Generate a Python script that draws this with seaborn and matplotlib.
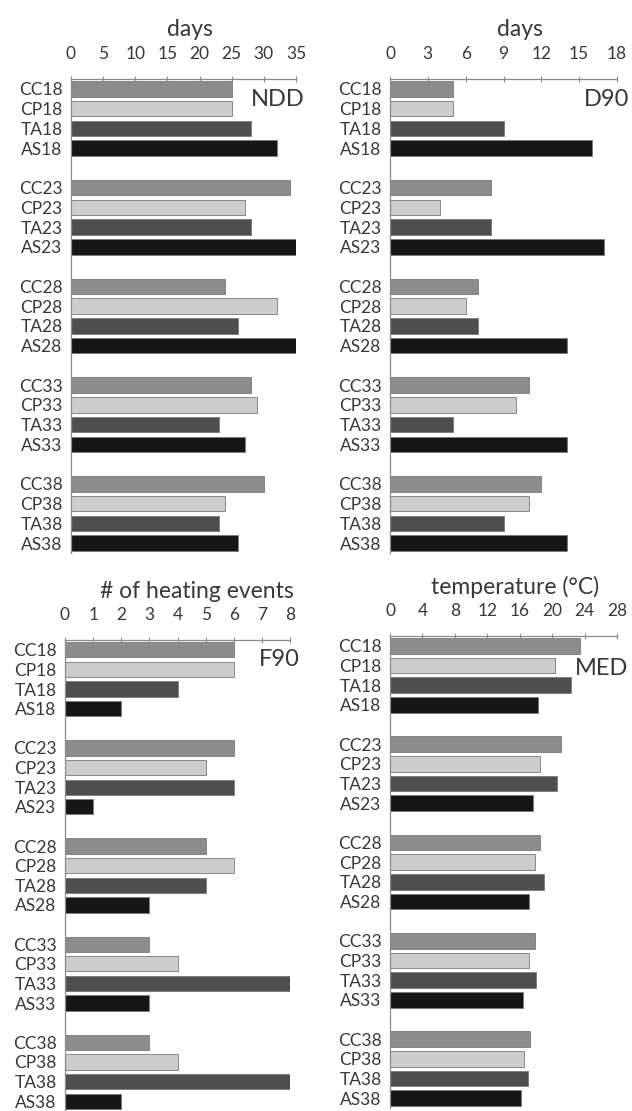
import matplotlib
matplotlib.use('Agg')
import matplotlib.pyplot as plt
import numpy as np
import pandas as pd
import seaborn as sns

sns.set_theme(style='white')
plt.rcParams['font.family'] = ['Lato', 'DejaVu Sans']

# categories
temps = ['18', '23', '28', '33', '38']
treatments = ['CC', 'CP', 'TA', 'AS']

# values per panel, grouped by temperature (CC, CP, TA, AS)
ndd = [25, 25, 28, 32, 34, 27, 28, 35, 24, 32, 26, 35, 28, 29, 23, 27, 30, 24, 23, 26]
d90 = [5, 5, 9, 16, 8, 4, 8, 17, 7, 6, 7, 14, 11, 10, 5, 14, 12, 11, 9, 14]
f90 = [6, 6, 4, 2, 6, 5, 6, 1, 5, 6, 5, 3, 3, 4, 8, 3, 3, 4, 8, 2]
med = [23.4, 20.4, 22.3, 18.3, 21.1, 18.5, 20.6, 17.7, 18.5, 17.9, 19.0, 17.1,
       17.9, 17.1, 18.0, 16.4, 17.3, 16.5, 17.0, 16.2]

colors = {'CC': '#8c8c8c', 'CP': '#cdcdcd', 'TA': '#4e4e4e', 'AS': '#161616'}

# bar order with a blank slot between temperature groups
order = []
for i, t in enumerate(temps):
    order += [tr + t for tr in treatments]
    if i < len(temps) - 1:
        order.append(' ' * (i + 1))

labels = [tr + t for t in temps for tr in treatments]
treat_col = [tr for t in temps for tr in treatments]

panels = [
    # values, xmax, step, xlabel, tag, rect, ylim bottom, label x, tag pos
    (ndd, 35, 5, 'days', 'NDD', [71, 79, 296, 553], 23.5, 0.53, (1.04, 0.956)),
    (d90, 18, 3, 'days', 'D90', [390, 79, 617, 553], 23.5, 0.573, (1.053, 0.956)),
    (f90, 8, 1, '# of heating events', 'F90', [65, 640, 290, 1111], 23.47, 0.587, (1.044, 0.958)),
    (med, 28, 4, 'temperature (°C)', 'MED', [390, 636, 617, 1108], 23.5, 0.55, (1.048, 0.932)),
]

W, H = 632, 1111
fig = plt.figure(figsize=(W / 100, H / 100), dpi=100)
text_col = '#383838'
axis_col = '#8a8a8a'

for vals, xmax, step, xlab, tag, (x0, y0, x1, y1), yb, lx, tagpos in panels:
    ax = fig.add_axes([x0 / W, 1 - y1 / H, (x1 - x0) / W, (y1 - y0) / H])
    df = pd.DataFrame({'label': labels, 'treat': treat_col, 'value': vals})
    sns.barplot(data=df, x='value', y='label', hue='treat', order=order,
                palette=colors, dodge=False, legend=False, width=0.78,
                edgecolor='#7a7a7a', linewidth=0.6, ax=ax)
    ax.set_xlim(0, xmax)
    ax.set_ylim(yb, -0.5)
    ax.set_ylabel('')

    # x axis on top
    ax.xaxis.set_label_position('top')
    ax.xaxis.tick_top()
    ax.set_xticks(np.arange(0, xmax + step / 2, step))
    ax.tick_params(axis='x', direction='inout', length=5, width=0.8, color=axis_col,
                   pad=10, labelsize=12.5, labelcolor=text_col)
    ax.set_xlabel(xlab, fontsize=16.5, color=text_col)
    ax.xaxis.set_label_coords(lx, 1 + 49 / (y1 - y0))
    ax.xaxis.label.set_va('center')

    # y labels centered, tick marks at slot boundaries
    ax.tick_params(axis='y', which='major', length=0, pad=6, labelsize=12.5, labelcolor=text_col)
    ax.set_yticks(np.arange(-0.5, len(order), 1.0), minor=True)
    ax.tick_params(axis='y', which='minor', direction='out', length=5, width=0.8, color=axis_col)

    for side in ['right', 'bottom']:
        ax.spines[side].set_visible(False)
    for side in ['top', 'left']:
        ax.spines[side].set_color(axis_col)
        ax.spines[side].set_linewidth(0.9)

    ax.text(tagpos[0], tagpos[1], tag, transform=ax.transAxes, ha='right', va='center',
            fontsize=17, color=text_col)

fig.savefig('out.png', dpi=100)
